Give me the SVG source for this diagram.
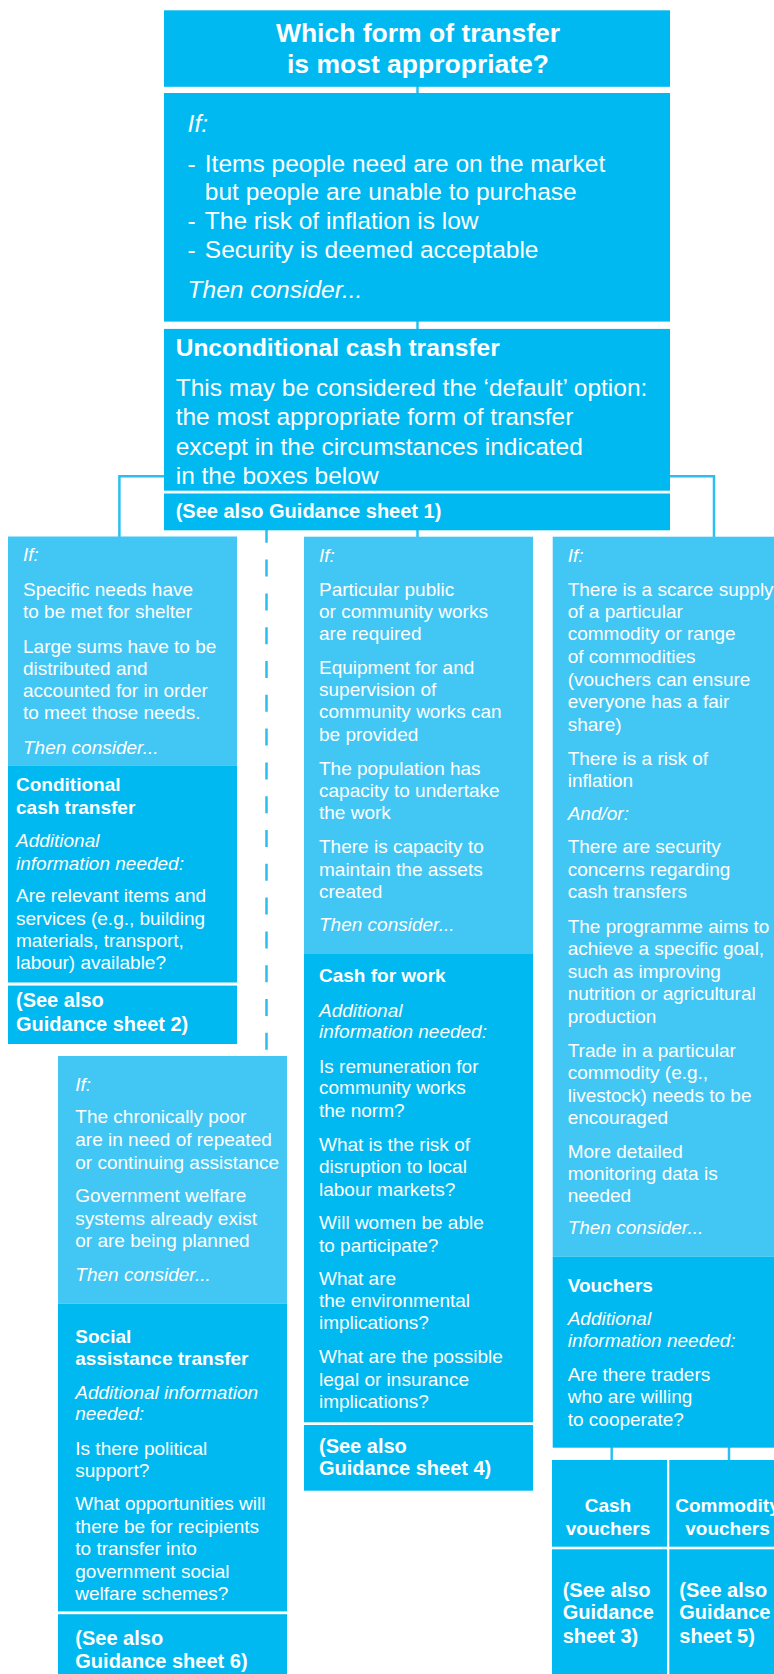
<svg xmlns="http://www.w3.org/2000/svg" width="774" height="1674" viewBox="0 0 774 1674">
<style>
.dk{fill:#00b9f1}
.lt{fill:#42c6f4}
.t{font-family:"Liberation Sans",Arial,Helvetica,sans-serif;fill:#ffffff;font-size:19px}
.big{font-size:24.5px}
.title{font-size:26.5px;font-weight:bold}
.b{font-weight:bold}
.i{font-style:italic}
.s20{font-size:20px}
.cn{fill:none;stroke:#2bbff1;stroke-width:2.5}
.dash{stroke-dasharray:17 16.8}
</style>
<rect width="774" height="1674" fill="#ffffff"/>
<g id="connectors">
<line class="cn" x1="417.5" y1="86" x2="417.5" y2="94"/>
<line class="cn" x1="417.5" y1="321" x2="417.5" y2="330"/>
<line class="cn" x1="417.5" y1="530" x2="417.5" y2="537"/>
<polyline class="cn" points="165,476.2 119.4,476.2 119.4,537"/>
<polyline class="cn" points="669,476.2 714,476.2 714,537"/>
<line class="cn dash" x1="266.5" y1="525.8" x2="266.5" y2="1050"/>
<line class="cn" x1="611.7" y1="1447" x2="611.7" y2="1461"/>
<line class="cn" x1="729" y1="1447" x2="729" y2="1461"/>
</g>
<g id="n-question">
<rect class="dk" x="164" y="10.3" width="506" height="76.5"/>
<text class="t title" text-anchor="middle"><tspan x="418" y="42">Which form of transfer</tspan><tspan x="418" y="73">is most appropriate?</tspan></text>
</g>
<g id="n-if">
<rect class="dk" x="164" y="93" width="506" height="228.6"/>
<text class="t big i" x="187.6" y="131.5">If:</text>
<text class="t big"><tspan x="187.6" y="171.5">-</tspan><tspan x="204.8" y="171.5">Items people need are on the market</tspan><tspan x="204.8" y="200.4">but people are unable to purchase</tspan><tspan x="187.6" y="229">-</tspan><tspan x="204.8" y="229">The risk of inflation is low</tspan><tspan x="187.6" y="258.3">-</tspan><tspan x="204.8" y="258.3">Security is deemed acceptable</tspan></text>
<text class="t big i" x="187.6" y="297.9">Then consider...</text>
</g>
<g id="n-unconditional">
<rect class="dk" x="164" y="328.9" width="506" height="161.8"/>
<rect class="dk" x="164" y="493.5" width="506" height="36.8"/>
<text class="t big b" x="175.7" y="356.4">Unconditional cash transfer</text>
<text class="t big"><tspan x="175.7" y="396">This may be considered the ‘default’ option:</tspan><tspan x="175.7" y="425.3">the most appropriate form of transfer</tspan><tspan x="175.7" y="454.5">except in the circumstances indicated</tspan><tspan x="175.7" y="483.8">in the boxes below</tspan></text>
<text class="t s20 b" x="175.7" y="518.2">(See also Guidance sheet 1)</text>
</g>
<g id="n-conditional">
<rect class="lt" x="8" y="536.5" width="229" height="229.4"/>
<rect class="dk" x="8" y="765.9" width="229" height="216.6"/>
<rect class="dk" x="8" y="985.6" width="229" height="58.4"/>
<text class="t i" x="23" y="561.3">If:</text>
<text class="t"><tspan x="23" y="595.8">Specific needs have</tspan><tspan x="23" y="618.1">to be met for shelter</tspan><tspan x="23" y="652.6">Large sums have to be</tspan><tspan x="23" y="674.5">distributed and</tspan><tspan x="23" y="696.7">accounted for in order</tspan><tspan x="23" y="719">to meet those needs.</tspan></text>
<text class="t i" x="23" y="753.5">Then consider...</text>
<text class="t b"><tspan x="16" y="791.3">Conditional</tspan><tspan x="16" y="813.7">cash transfer</tspan></text>
<text class="t i"><tspan x="16" y="847.1">Additional</tspan><tspan x="16" y="869.5">information needed:</tspan></text>
<text class="t"><tspan x="16" y="902.2">Are relevant items and</tspan><tspan x="16" y="924.6">services (e.g., building</tspan><tspan x="16" y="947">materials, transport,</tspan><tspan x="16" y="969.4">labour) available?</tspan></text>
<text class="t s20 b"><tspan x="16" y="1007.3">(See also</tspan><tspan x="16" y="1031.4">Guidance sheet 2)</tspan></text>
</g>
<g id="n-cashforwork">
<rect class="lt" x="304" y="536.7" width="229" height="417.3"/>
<rect class="dk" x="304" y="954" width="229" height="468.3"/>
<rect class="dk" x="304" y="1425" width="229" height="65.7"/>
<text class="t i" x="319" y="561.7">If:</text>
<text class="t"><tspan x="319" y="596">Particular public</tspan><tspan x="319" y="617.7">or community works</tspan><tspan x="319" y="640">are required</tspan><tspan x="319" y="674">Equipment for and</tspan><tspan x="319" y="696">supervision of</tspan><tspan x="319" y="718.3">community works can</tspan><tspan x="319" y="740.7">be provided</tspan><tspan x="319" y="775">The population has</tspan><tspan x="319" y="797.3">capacity to undertake</tspan><tspan x="319" y="819.3">the work</tspan><tspan x="319" y="853.3">There is capacity to</tspan><tspan x="319" y="875.7">maintain the assets</tspan><tspan x="319" y="898.3">created</tspan></text>
<text class="t i" x="319" y="931">Then consider...</text>
<text class="t b" x="319" y="981.7">Cash for work</text>
<text class="t i"><tspan x="319" y="1016.7">Additional</tspan><tspan x="319" y="1038.3">information needed:</tspan></text>
<text class="t"><tspan x="319" y="1072.7">Is remuneration for</tspan><tspan x="319" y="1094.3">community works</tspan><tspan x="319" y="1116.7">the norm?</tspan><tspan x="319" y="1150.7">What is the risk of</tspan><tspan x="319" y="1173.3">disruption to local</tspan><tspan x="319" y="1195.7">labour markets?</tspan><tspan x="319" y="1229.3">Will women be able</tspan><tspan x="319" y="1251.7">to participate?</tspan><tspan x="319" y="1285">What are</tspan><tspan x="319" y="1307.3">the environmental</tspan><tspan x="319" y="1329.3">implications?</tspan><tspan x="319" y="1363.3">What are the possible</tspan><tspan x="319" y="1385.7">legal or insurance</tspan><tspan x="319" y="1407.7">implications?</tspan></text>
<text class="t s20 b"><tspan x="319" y="1452.7">(See also</tspan><tspan x="319" y="1475">Guidance sheet 4)</tspan></text>
</g>
<g id="n-vouchers">
<rect class="lt" x="552.7" y="536.7" width="240" height="720"/>
<rect class="dk" x="552.7" y="1256.7" width="240" height="191"/>
<text class="t i" x="567.7" y="561.7">If:</text>
<text class="t"><tspan x="567.7" y="596">There is a scarce supply</tspan><tspan x="567.7" y="617.7">of a particular</tspan><tspan x="567.7" y="640">commodity or range</tspan><tspan x="567.7" y="662.7">of commodities</tspan><tspan x="567.7" y="685.7">(vouchers can ensure</tspan><tspan x="567.7" y="708.3">everyone has a fair</tspan><tspan x="567.7" y="730.7">share)</tspan><tspan x="567.7" y="765">There is a risk of</tspan><tspan x="567.7" y="786.7">inflation</tspan></text>
<text class="t i" x="567.7" y="820">And/or:</text>
<text class="t"><tspan x="567.7" y="853.3">There are security</tspan><tspan x="567.7" y="875.7">concerns regarding</tspan><tspan x="567.7" y="898.3">cash transfers</tspan><tspan x="567.7" y="932.5">The programme aims to</tspan><tspan x="567.7" y="955">achieve a specific goal,</tspan><tspan x="567.7" y="977.5">such as improving</tspan><tspan x="567.7" y="1000">nutrition or agricultural</tspan><tspan x="567.7" y="1022.5">production</tspan><tspan x="567.7" y="1056.5">Trade in a particular</tspan><tspan x="567.7" y="1079">commodity (e.g.,</tspan><tspan x="567.7" y="1101.5">livestock) needs to be</tspan><tspan x="567.7" y="1124">encouraged</tspan><tspan x="567.7" y="1157.5">More detailed</tspan><tspan x="567.7" y="1180">monitoring data is</tspan><tspan x="567.7" y="1202">needed</tspan></text>
<text class="t i" x="567.7" y="1234.3">Then consider...</text>
<text class="t b" x="567.7" y="1291.7">Vouchers</text>
<text class="t i"><tspan x="567.7" y="1325">Additional</tspan><tspan x="567.7" y="1346.7">information needed:</tspan></text>
<text class="t"><tspan x="567.7" y="1381">Are there traders</tspan><tspan x="567.7" y="1403.3">who are willing</tspan><tspan x="567.7" y="1425.7">to cooperate?</tspan></text>
</g>
<g id="n-cashvouchers">
<rect class="dk" x="552" y="1460" width="115" height="86.7"/>
<rect class="dk" x="552" y="1549.3" width="115" height="130"/>
<text class="t b" text-anchor="middle"><tspan x="608" y="1512.3">Cash</tspan><tspan x="608" y="1535">vouchers</tspan></text>
<text class="t s20 b"><tspan x="562.7" y="1596.7">(See also</tspan><tspan x="562.7" y="1619.3">Guidance</tspan><tspan x="562.7" y="1643.3">sheet 3)</tspan></text>
</g>
<g id="n-commodityvouchers">
<rect class="dk" x="669.3" y="1460" width="120" height="86.7"/>
<rect class="dk" x="669.3" y="1549.3" width="120" height="130"/>
<text class="t b" text-anchor="middle"><tspan x="727.5" y="1512.3">Commodity</tspan><tspan x="727.5" y="1535">vouchers</tspan></text>
<text class="t s20 b"><tspan x="679.3" y="1596.7">(See also</tspan><tspan x="679.3" y="1619.3">Guidance</tspan><tspan x="679.3" y="1643.3">sheet 5)</tspan></text>
</g>
<g id="n-social">
<rect class="lt" x="58" y="1056" width="229" height="247.6"/>
<rect class="dk" x="58" y="1303.6" width="229" height="307.8"/>
<rect class="dk" x="58" y="1614.2" width="229" height="65"/>
<text class="t i" x="75.3" y="1090.5">If:</text>
<text class="t"><tspan x="75.3" y="1122.9">The chronically poor</tspan><tspan x="75.3" y="1146">are in need of repeated</tspan><tspan x="75.3" y="1168.6">or continuing assistance</tspan><tspan x="75.3" y="1201.7">Government welfare</tspan><tspan x="75.3" y="1224.8">systems already exist</tspan><tspan x="75.3" y="1247.4">or are being planned</tspan></text>
<text class="t i" x="75.3" y="1280.6">Then consider...</text>
<text class="t b"><tspan x="75.3" y="1343.3">Social</tspan><tspan x="75.3" y="1364.7">assistance transfer</tspan></text>
<text class="t i"><tspan x="75.3" y="1398.7">Additional information</tspan><tspan x="75.3" y="1420.1">needed:</tspan></text>
<text class="t"><tspan x="75.3" y="1454.5">Is there political</tspan><tspan x="75.3" y="1476.7">support?</tspan><tspan x="75.3" y="1509.9">What opportunities will</tspan><tspan x="75.3" y="1532.5">there be for recipients</tspan><tspan x="75.3" y="1554.8">to transfer into</tspan><tspan x="75.3" y="1577.8">government social</tspan><tspan x="75.3" y="1600">welfare schemes?</tspan></text>
<text class="t s20 b"><tspan x="75.3" y="1644.5">(See also</tspan><tspan x="75.3" y="1667.6">Guidance sheet 6)</tspan></text>
</g>
</svg>
